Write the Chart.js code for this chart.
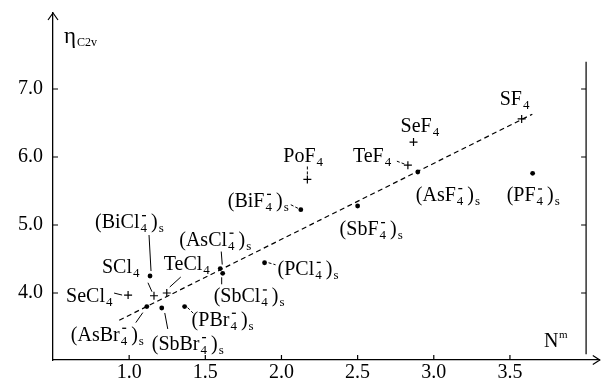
<!DOCTYPE html>
<html><head><meta charset="utf-8">
<script src="https://cdn.jsdelivr.net/npm/chart.js@4"></script>
<style>html,body{margin:0;padding:0;background:#fff}#wrap{width:605px;height:387px;position:relative;background:#fff}</style>
</head><body><div id="wrap"><canvas id="c" width="605" height="387"></canvas></div>
<script>
// ---- data ----
const molNames = ['SF4','SeF4','TeF4','PoF4','SeCl4','SCl4','TeCl4'];
const molN     = [3.577, 2.867, 2.830, 2.170, 0.993, 1.163, 1.247];
const molEta   = [6.56,  6.22,  5.88,  5.67,  3.97,  3.96,  4.00];
const ionNames = ['AsF4','PF4','BiF4','SbF4','AsCl4','SbCl4','PCl4','BiCl4','AsBr4','SbBr4','PBr4'];
const ionN     = [2.895, 3.649, 2.127, 2.500, 1.598, 1.614, 1.889, 1.137, 1.116, 1.214, 1.364];
const ionEta   = [5.78,  5.76,  5.225, 5.28,  4.36,  4.29,  4.445, 4.25,  3.80,  3.78,  3.80];
const fitN     = [0.935, 3.647];
const fitEta   = [3.60, 6.63];
const xTickValues = [1.0, 1.5, 2.0, 2.5, 3.0, 3.5];
const yTickValues = [4.0, 5.0, 6.0, 7.0];
const rightAxisRange = [3.1, 7.4];

// ---- label layout (pixel offsets from the point: text left/baseline, leader segment) ----
const labelLayout = {
  SF4:   {dx:-22, dy:-14},
  SeF4:  {dx:-13, dy:-10},
  TeF4:  {dx:-55, dy:-3,  lead:[-11,-4,-3,-1], dash:true},
  PoF4:  {dx:-24, dy:-17, lead:[0,-13,0,-5], dash:true},
  SeCl4: {dx:-62, dy:7,   lead:[-14,-2,-6,0]},
  SCl4:  {dx:-52, dy:-23, lead:[-6,-13,-2,-4]},
  TeCl4: {dx:-3,  dy:-23, lead:[14,-16,3,-6]},
  AsF4:  {dx:-2,  dy:29},
  PF4:   {dx:-26, dy:28},
  BiF4:  {dx:-73, dy:-3,  lead:[-10,-5,-2,-1], dash:true},
  SbF4:  {dx:-18, dy:29},
  AsCl4: {dx:-41, dy:-23, lead:[1,-17,2,-4]},
  SbCl4: {dx:-9,  dy:29,  lead:[-1,4,-1,11]},
  PCl4:  {dx:13,  dy:12,  lead:[4,0,11,2], dash:true},
  BiCl4: {dx:-55, dy:-48, lead:[-1,-41,1,-5]},
  AsBr4: {dx:-76, dy:34,  lead:[-11,16,-4,6]},
  SbBr4: {dx:-10, dy:42,  lead:[3,5,6,21]},
  PBr4:  {dx:7,   dy:19,  lead:[3,1,9,7], dash:true}
};

const FONT = '"Liberation Serif","Times New Roman",serif';

function partsFor(name, ion) {
  const base = name.slice(0, -1);
  if (ion) return [['(' + base,'n'],['4','bm'],[')','n'],['s','b']];
  return [[base,'n'],['4','b']];
}
function drawRich(ctx, parts, x, y) {
  let cx = x;
  ctx.textBaseline = 'alphabetic';
  ctx.textAlign = 'left';
  for (const [t,k] of parts) {
    if (k === 'n') {
      ctx.font = '20px ' + FONT;
      ctx.fillText(t, cx, y);
      cx += ctx.measureText(t).width;
    } else if (k === 'b') {
      ctx.font = '13px ' + FONT;
      ctx.fillText(t, cx + 1, y + 4);
      cx += ctx.measureText(t).width + 1;
    } else {
      ctx.font = '13px ' + FONT;
      const w = ctx.measureText(t).width;
      ctx.fillText(t, cx + 1, y + 4);
      ctx.fillRect(cx + 2.5, y - 13, w - 2.5, 1.3);
      cx += w + 5;
    }
  }
}

const decor = {
  id: 'decor',
  afterDraw(chart) {
    const ctx = chart.ctx, xs = chart.scales.x, ys = chart.scales.y, ca = chart.chartArea;
    ctx.save();
    ctx.strokeStyle = '#000'; ctx.fillStyle = '#000'; ctx.lineWidth = 1.2;
    const L = ca.left, B = ca.bottom;
    // arrows
    ctx.beginPath();
    ctx.moveTo(L - 5, ca.top + 7); ctx.lineTo(L, ca.top); ctx.lineTo(L + 5, ca.top + 7);
    ctx.moveTo(ca.right - 7, B - 4.5); ctx.lineTo(ca.right, B); ctx.lineTo(ca.right - 7, B + 4.5);
    ctx.stroke();
    // tick marks (inward)
    ctx.beginPath();
    yTickValues.forEach(v => { const p = ys.getPixelForValue(v); ctx.moveTo(L, p); ctx.lineTo(L + 5, p); });
    xTickValues.forEach(v => { const p = xs.getPixelForValue(v); ctx.moveTo(p, B); ctx.lineTo(p, B - 5); });
    // right axis
    const rx = xs.getPixelForValue(4.0);
    ctx.moveTo(rx, ys.getPixelForValue(rightAxisRange[0])); ctx.lineTo(rx, ys.getPixelForValue(rightAxisRange[1]));
    yTickValues.forEach(v => { const p = ys.getPixelForValue(v); ctx.moveTo(rx, p); ctx.lineTo(rx - 5, p); });
    ctx.stroke();
    // labels
    const doLabels = (names, xsArr, ysArr, ion) => {
      names.forEach((n, i) => {
        const px = xs.getPixelForValue(xsArr[i]), py = ys.getPixelForValue(ysArr[i]);
        const lay = labelLayout[n];
        drawRich(ctx, partsFor(n, ion), px + lay.dx, py + lay.dy);
        if (lay.lead) {
          ctx.beginPath();
          ctx.setLineDash(lay.dash ? [3, 2] : []);
          ctx.lineWidth = 1;
          ctx.moveTo(px + lay.lead[0], py + lay.lead[1]);
          ctx.lineTo(px + lay.lead[2], py + lay.lead[3]);
          ctx.stroke();
          ctx.setLineDash([]);
        }
      });
    };
    doLabels(molNames, molN, molEta, false);
    doLabels(ionNames, ionN, ionEta, true);
    // axis titles
    ctx.textAlign = 'left'; ctx.textBaseline = 'alphabetic';
    ctx.font = '23px ' + FONT; ctx.fillText('\u03B7', 64, 43);
    ctx.font = '12px ' + FONT; ctx.fillText('C2v', 77, 46);
    ctx.font = '20px ' + FONT; ctx.fillText('N', 544, 347);
    ctx.font = '11px ' + FONT; ctx.fillText('m', 559, 338);
    ctx.restore();
  }
};

const tickFont = {family: FONT, size: 20};
new Chart(document.getElementById('c'), {
  type: 'scatter',
  data: {
    datasets: [
      {label: 'fit', type: 'line', data: fitN.map((x, i) => ({x, y: fitEta[i]})),
       borderColor: '#000', borderWidth: 1.2, borderDash: [5, 3.5], pointRadius: 0, fill: false, tension: 0},
      {label: 'molecules', data: molN.map((x, i) => ({x, y: molEta[i]})),
       pointStyle: 'cross', pointRadius: 4, borderColor: '#000', backgroundColor: '#000', borderWidth: 1.2},
      {label: 'ions', data: ionN.map((x, i) => ({x, y: ionEta[i]})),
       pointStyle: 'circle', pointRadius: 2.4, borderColor: '#000', backgroundColor: '#000', borderWidth: 0}
    ]
  },
  options: {
    responsive: false, animation: false, devicePixelRatio: 1,
    layout: {padding: {top: 13, right: 2, left: 0, bottom: 0}},
    plugins: {legend: {display: false}, tooltip: {enabled: false}},
    scales: {
      x: {
        type: 'linear', min: 0.5, max: 4.09,
        afterBuildTicks: s => { s.ticks = xTickValues.map(v => ({value: v})); },
        afterFit: s => { s.height = 27; s.paddingLeft = 0; s.paddingRight = 0; },
        ticks: {callback: v => Number(v).toFixed(1), color: '#000', font: tickFont, padding: 1, maxRotation: 0, autoSkip: false},
        grid: {display: false, drawTicks: false},
        border: {display: true, color: '#000', width: 1.3}
      },
      y: {
        type: 'linear', min: 3.015, max: 8.118,
        afterBuildTicks: s => { s.ticks = yTickValues.map(v => ({value: v})); },
        afterFit: s => { s.width = 53; s.paddingTop = 0; s.paddingBottom = 0; },
        ticks: {callback: v => Number(v).toFixed(1), color: '#000', font: tickFont, padding: 10, autoSkip: false},
        grid: {display: false, drawTicks: false},
        border: {display: true, color: '#000', width: 1.3}
      }
    }
  },
  plugins: [decor]
});
</script>
</body></html>
